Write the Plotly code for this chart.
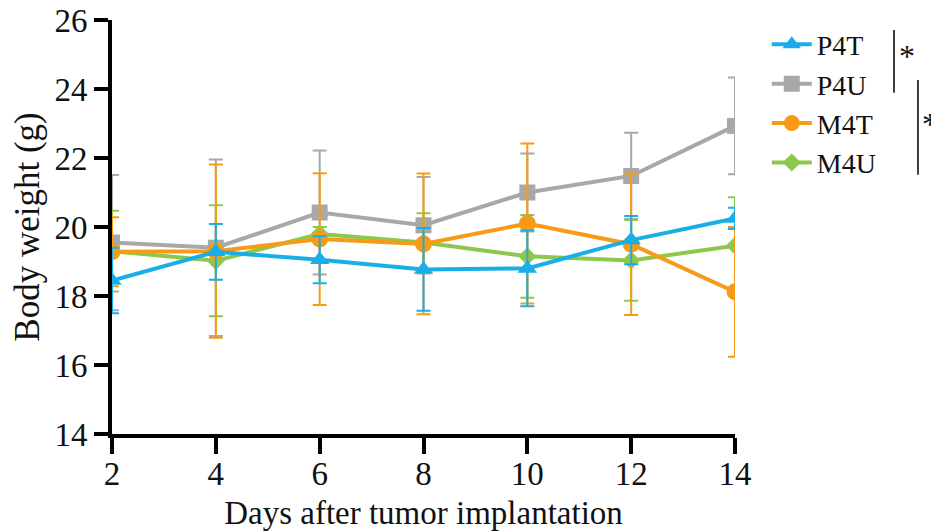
import plotly.graph_objects as go

days = [2, 4, 6, 8, 10, 12, 14]

p4t_mean = [18.45, 19.28, 19.05, 18.77, 18.80, 19.62, 20.25]
p4t_err = [0.95, 0.81, 0.68, 1.20, 1.10, 0.70, 0.31]

p4u_mean = [19.55, 19.40, 20.42, 20.05, 21.00, 21.48, 22.93]
p4u_err = [1.96, 2.56, 1.80, 1.40, 1.13, 1.25, 1.40]

m4t_mean = [19.28, 19.30, 19.65, 19.51, 20.10, 19.50, 18.12]
m4t_err = [1.00, 2.51, 1.91, 2.04, 2.32, 2.05, 1.88]

m4u_mean = [19.30, 19.02, 19.80, 19.55, 19.15, 19.03, 19.46]
m4u_err = [1.17, 1.61, 0.20, 0.85, 1.20, 1.17, 1.40]

series = [
    # name, mean, err, color, symbol, size, rank
    ("P4U", p4u_mean, p4u_err, "#A8A8A8", "square", 16, 2),
    ("M4U", m4u_mean, m4u_err, "#8DC84C", "diamond", 14, 4),
    ("M4T", m4t_mean, m4t_err, "#F79B16", "circle", 17, 3),
    ("P4T", p4t_mean, p4t_err, "#19AEE8", "triangle-up", 17, 1),
]

FONT = "Liberation Serif"
INK = "#111111"

fig = go.Figure()
for name, mean, err, color, symbol, size, rank in series:
    fig.add_trace(go.Scatter(
        x=days, y=mean, name=name, mode="lines+markers",
        line=dict(color=color, width=4),
        marker=dict(symbol=symbol, size=size, color=color),
        error_y=dict(type="data", array=err, visible=True,
                     color=color, thickness=2, width=7),
        legendrank=rank,
    ))

# the page body adds an 8px offset; size the figure to compensate
fig.update_layout(
    width=931, height=523,
    margin=dict(l=104, r=204, t=12, b=97, autoexpand=False),
    paper_bgcolor="white", plot_bgcolor="white",
    font=dict(family=FONT, size=31, color=INK),
    showlegend=True,
    legend=dict(x=1.051, y=1.001, xanchor="left", yanchor="top",
                font=dict(family=FONT, size=28, color=INK),
                bgcolor="rgba(0,0,0,0)", itemwidth=40, tracegroupgap=0),
    xaxis=dict(range=[2, 14], tickvals=days, showline=True, linecolor="black",
               linewidth=4, ticks="outside", ticklen=16, tickwidth=4,
               tickcolor="black", showgrid=False, zeroline=False,
               automargin=False, ticklabeloverflow="allow",
               ticklabelstandoff=-9,
               title=dict(text="Days after tumor implantation", standoff=14,
                          font=dict(size=33)),
               tickfont=dict(size=33)),
    yaxis=dict(range=[14, 26], tickvals=[14, 16, 18, 20, 22, 24, 26],
               showline=True, linecolor="black", linewidth=4,
               ticks="outside", ticklen=14, tickwidth=4, tickcolor="black",
               showgrid=False, zeroline=False, automargin=False,
               ticklabeloverflow="allow",
               title=dict(text="Body weight (g)", standoff=21,
                          font=dict(size=35)),
               tickfont=dict(size=33)),
)

# significance brackets
fig.add_shape(type="line", xref="paper", yref="paper",
              x0=1.2552, x1=1.2552, y0=0.976, y1=0.824,
              line=dict(color="black", width=1.5))
fig.add_shape(type="line", xref="paper", yref="paper",
              x0=1.2937, x1=1.2937, y0=0.855, y1=0.626,
              line=dict(color="black", width=1.5))
fig.add_annotation(xref="paper", yref="paper", x=1.276, y=0.912,
                   text="*", showarrow=False, xanchor="center", yanchor="middle",
                   font=dict(family=FONT, size=32, color=INK))
fig.add_annotation(xref="paper", yref="paper", x=1.313, y=0.748,
                   text="*", showarrow=False, xanchor="center", yanchor="middle",
                   font=dict(family=FONT, size=32, color=INK))

fig.write_html("out.html")
